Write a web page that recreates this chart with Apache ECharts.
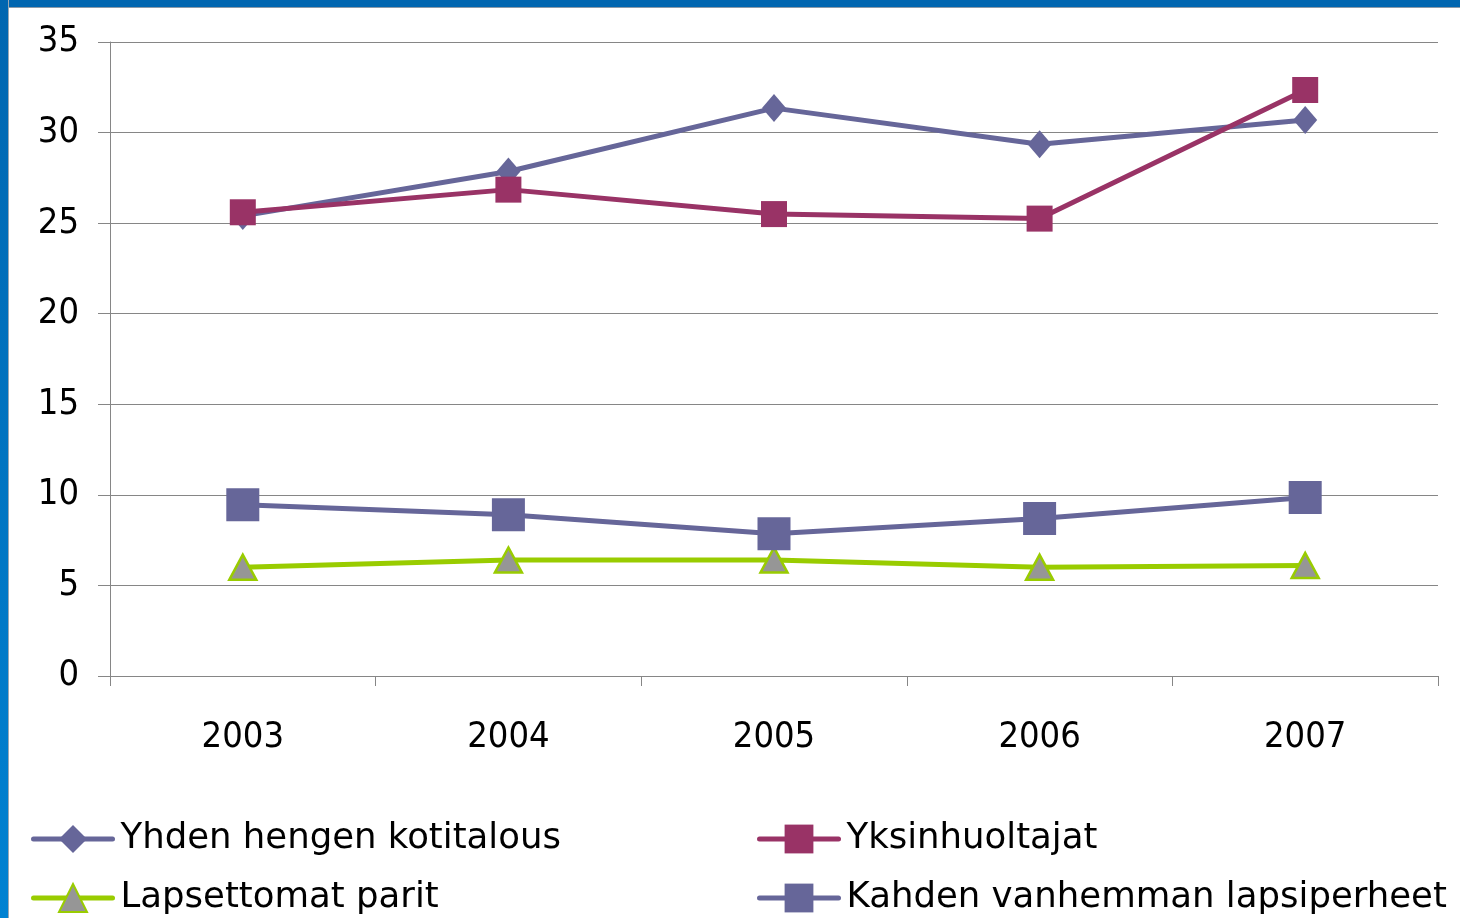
<!DOCTYPE html>
<html>
<head>
<meta charset="utf-8">
<script src="https://cdn.jsdelivr.net/npm/echarts@6/dist/echarts.min.js"></script>
<style>
html,body{margin:0;padding:0;width:1460px;height:918px;overflow:hidden;background:#fff;}
#frameTop{position:absolute;left:0;top:0;width:1460px;height:7px;background:#0066B0;border-bottom:1px solid #8a9aa8;}
#frameLeft{position:absolute;left:0;top:0;width:8px;height:918px;background:linear-gradient(#0066B0,#0082D2);border-right:1px solid #9aa8b4;}
#chart{position:absolute;left:0;top:0;width:1460px;height:918px;}
</style>
</head>
<body>
<div id="chart"></div>
<div id="frameTop"></div>
<div id="frameLeft"></div>
<script>
var categories = ['2003', '2004', '2005', '2006', '2007'];
var seriesNames = ['Yhden hengen kotitalous', 'Yksinhuoltajat', 'Lapsettomat parit', 'Kahden vanhemman lapsiperheet'];
var yhdenHengen = [25.4, 27.85, 31.35, 29.35, 30.7];
var yksinhuoltajat = [25.6, 26.85, 25.5, 25.25, 32.35];
var lapsettomat = [6.0, 6.4, 6.4, 6.0, 6.1];
var kahdenVanhemman = [9.45, 8.9, 7.85, 8.7, 9.85];
var yTicks = [0, 5, 10, 15, 20, 25, 30, 35];

var FONT = '"DejaVu Sans Condensed", "DejaVu Sans", sans-serif';
var LFONT = '"DejaVu Sans", sans-serif';
var chart = echarts.init(document.getElementById('chart'), null, {renderer: 'canvas'});
var legendText = {color: '#000', fontSize: 35.5, fontFamily: LFONT, lineHeight: 40, padding: [0, 0, 0, 3]};
var legendLine = {width: 5, cap: 'round'};
var option = {
  animation: false,
  backgroundColor: '#ffffff',
  grid: {left: 110, right: 22, top: 42, bottom: 242, containLabel: false},
  xAxis: {
    type: 'category',
    data: categories,
    boundaryGap: true,
    axisLine: {lineStyle: {color: '#868686', width: 1}},
    axisTick: {show: true, length: 10, lineStyle: {color: '#868686'}},
    axisLabel: {color: '#000', fontSize: 36, fontFamily: FONT, margin: 44}
  },
  yAxis: {
    type: 'value',
    min: yTicks[0],
    max: yTicks[yTicks.length - 1],
    interval: 5,
    axisLine: {show: true, lineStyle: {color: '#868686', width: 1}},
    axisTick: {show: true, length: 12, lineStyle: {color: '#868686'}},
    splitLine: {show: true, lineStyle: {color: '#868686', width: 1}},
    axisLabel: {color: '#000', fontSize: 36, fontFamily: FONT, margin: 31, lineHeight: 44, verticalAlign: 'middle', padding: [8, 0, 0, 0]}
  },
  legend: [
    {
      orient: 'vertical', left: 31, top: 819, padding: 0,
      itemWidth: 79, itemHeight: 35, itemGap: 19,
      data: [seriesNames[0], seriesNames[2]],
      lineStyle: legendLine,
      textStyle: legendText
    },
    {
      orient: 'vertical', left: 757, top: 819, padding: 0,
      itemWidth: 79, itemHeight: 36, itemGap: 19,
      data: [seriesNames[1], seriesNames[3]],
      lineStyle: legendLine,
      textStyle: legendText
    }
  ],
  series: [
    {
      name: seriesNames[0], type: 'line', data: yhdenHengen,
      symbol: 'diamond', symbolSize: [24, 28],
      lineStyle: {color: '#666699', width: 5},
      itemStyle: {color: '#666699'}
    },
    {
      name: seriesNames[1], type: 'line', data: yksinhuoltajat,
      symbol: 'rect', symbolSize: 26,
      lineStyle: {color: '#993366', width: 5},
      itemStyle: {color: '#993366'}
    },
    {
      name: seriesNames[2], type: 'line', data: lapsettomat,
      symbol: 'triangle', symbolSize: [27, 25],
      lineStyle: {color: '#99CC00', width: 5},
      itemStyle: {color: '#969696', borderColor: '#99CC00', borderWidth: 2.5}
    },
    {
      name: seriesNames[3], type: 'line', data: kahdenVanhemman,
      symbol: 'rect', symbolSize: 33,
      lineStyle: {color: '#666699', width: 5},
      itemStyle: {color: '#666699'}
    }
  ]
};
chart.setOption(option);
</script>
</body>
</html>
